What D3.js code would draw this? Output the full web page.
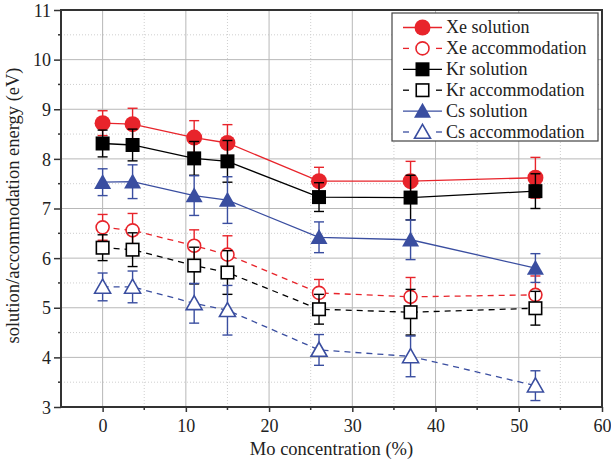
<!DOCTYPE html>
<html>
<head>
<meta charset="utf-8">
<script src="https://cdn.jsdelivr.net/npm/d3@7"></script>
<style>
  html, body { margin: 0; padding: 0; background: #fff; }
  svg { display: block; }
  text { font-family: "Liberation Serif", "Times New Roman", serif; fill: #222; }
</style>
</head>
<body>
<svg id="chart" width="611" height="460"></svg>
<script>
// ---- data ----
const moConc = [0, 3.6, 11, 15, 26, 37, 52];
const xeSolution = [8.72, 8.70, 8.43, 8.32, 7.55, 7.55, 7.62];
const xeSolutionErr = [0.25, 0.32, 0.34, 0.37, 0.28, 0.40, 0.41];
const xeAccommodation = [6.62, 6.56, 6.25, 6.07, 5.30, 5.22, 5.26];
const xeAccommodationErr = [0.26, 0.34, 0.32, 0.38, 0.27, 0.39, 0.38];
const krSolution = [8.31, 8.28, 8.01, 7.95, 7.23, 7.22, 7.35];
const krSolutionErr = [0.27, 0.32, 0.34, 0.42, 0.29, 0.45, 0.35];
const krAccommodation = [6.21, 6.17, 5.85, 5.71, 4.97, 4.91, 4.99];
const krAccommodationErr = [0.26, 0.34, 0.37, 0.44, 0.30, 0.46, 0.34];
const csSolution = [7.53, 7.54, 7.26, 7.17, 6.42, 6.37, 5.80];
const csSolutionErr = [0.27, 0.34, 0.40, 0.47, 0.31, 0.40, 0.29];
const csAccommodation = [5.42, 5.42, 5.09, 4.95, 4.15, 4.02, 3.43];
const csAccommodationErr = [0.28, 0.32, 0.40, 0.50, 0.31, 0.41, 0.30];
const seriesNames = ["Xe solution", "Xe accommodation", "Kr solution", "Kr accommodation", "Cs solution", "Cs accommodation"];
const xTicks = [0, 10, 20, 30, 40, 50, 60];
const yTicks = [3, 4, 5, 6, 7, 8, 9, 10, 11];
const xLabel = "Mo concentration (%)";
const yLabel = "solution/accommodation energy (eV)";

// ---- styles ----
const RED = "#e8242b", BLACK = "#000000", BLUE = "#3a4ea0";
const series = [
  {name: seriesNames[0], y: xeSolution, e: xeSolutionErr, color: RED, dash: null, shape: "circle", fill: true},
  {name: seriesNames[1], y: xeAccommodation, e: xeAccommodationErr, color: RED, dash: "6,5", shape: "circle", fill: false},
  {name: seriesNames[2], y: krSolution, e: krSolutionErr, color: BLACK, dash: null, shape: "square", fill: true},
  {name: seriesNames[3], y: krAccommodation, e: krAccommodationErr, color: BLACK, dash: "6,5", shape: "square", fill: false},
  {name: seriesNames[4], y: csSolution, e: csSolutionErr, color: BLUE, dash: null, shape: "triangle", fill: true},
  {name: seriesNames[5], y: csAccommodation, e: csAccommodationErr, color: BLUE, dash: "6,5", shape: "triangle", fill: false}
];

const svg = d3.select("#chart");
const L = 61, R = 602, T = 10, B = 407;
const x = d3.scaleLinear().domain([-5, 60]).range([L, R]);
const y = d3.scaleLinear().domain([3, 11]).range([B, T]);

// grid
const grid = svg.append("g");
const xMinor = d3.range(-5, 61, 5).filter(v => v % 10 !== 0);
const yMinor = d3.range(3.5, 11, 1);
grid.selectAll(".gxm").data(xMinor).enter().append("line")
  .attr("x1", d => x(d)).attr("x2", d => x(d)).attr("y1", T).attr("y2", B)
  .attr("stroke", "#cfcfcf").attr("stroke-width", 1).attr("stroke-dasharray", "1,2");
grid.selectAll(".gym").data(yMinor).enter().append("line")
  .attr("y1", d => y(d)).attr("y2", d => y(d)).attr("x1", L).attr("x2", R)
  .attr("stroke", "#cfcfcf").attr("stroke-width", 1).attr("stroke-dasharray", "1,2");
grid.selectAll(".gx").data(xTicks).enter().append("line")
  .attr("x1", d => x(d)).attr("x2", d => x(d)).attr("y1", T).attr("y2", B)
  .attr("stroke", "#b8b8b8").attr("stroke-width", 1);
grid.selectAll(".gy").data(yTicks).enter().append("line")
  .attr("y1", d => y(d)).attr("y2", d => y(d)).attr("x1", L).attr("x2", R)
  .attr("stroke", "#b8b8b8").attr("stroke-width", 1);

// axes
const xAxis = d3.axisBottom(x).tickValues(xTicks).tickSize(5).tickPadding(4).tickFormat(d3.format("d"));
const yAxis = d3.axisLeft(y).tickValues(yTicks).tickSize(7).tickPadding(3).tickFormat(d3.format("d"));
const gx = svg.append("g").attr("transform", `translate(0,${B})`).call(xAxis);
const gy = svg.append("g").attr("transform", `translate(${L},0)`).call(yAxis);
[gx, gy].forEach(g => {
  g.select(".domain").remove();
  g.selectAll(".tick line").attr("stroke", "#333").attr("stroke-width", 1.5);
  g.selectAll(".tick text").attr("font-size", 18).attr("font-family", "Liberation Serif, serif").attr("fill", "#222");
});
gx.selectAll(".tick text").attr("dy", "0.9em");
gy.selectAll(".tick text").attr("dy", "0.34em");
// minor ticks
svg.append("g").selectAll("line").data(xMinor.filter(v => v > -5)).enter().append("line")
  .attr("x1", d => x(d)).attr("x2", d => x(d)).attr("y1", B).attr("y2", B + 3)
  .attr("stroke", "#333").attr("stroke-width", 1.5);
svg.append("g").selectAll("line").data(yMinor).enter().append("line")
  .attr("y1", d => y(d)).attr("y2", d => y(d)).attr("x1", L - 3).attr("x2", L)
  .attr("stroke", "#333").attr("stroke-width", 1.5);

// frame
svg.append("rect").attr("x", L).attr("y", T).attr("width", R - L).attr("height", B - T)
  .attr("fill", "none").attr("stroke", "#333").attr("stroke-width", 2);

// axis titles
svg.append("text").attr("x", (L + R) / 2).attr("y", 455).attr("text-anchor", "middle")
  .attr("font-size", 18.5).text(xLabel);
svg.append("text").attr("transform", `translate(19,${(T + B) / 2 - 3}) rotate(-90)`)
  .attr("text-anchor", "middle").attr("font-size", 18.5).text(yLabel);

// markers
function drawMarker(g, shape, cx, cy, color, filled) {
  const sw = filled ? 0 : 1.6;
  if (shape === "circle") {
    g.append("circle").attr("cx", cx).attr("cy", cy).attr("r", filled ? 8 : 6.5)
      .attr("fill", filled ? color : "#fff").attr("stroke", color).attr("stroke-width", sw);
  } else if (shape === "square") {
    const s = filled ? 14 : 12.5;
    g.append("rect").attr("x", cx - s / 2).attr("y", cy - s / 2).attr("width", s).attr("height", s)
      .attr("fill", filled ? color : "#fff").attr("stroke", color).attr("stroke-width", sw);
  } else {
    const w = filled ? 17 : 16, h = filled ? 15 : 14;
    const pts = [[cx, cy - h * 0.55], [cx + w / 2, cy + h * 0.45], [cx - w / 2, cy + h * 0.45]];
    g.append("polygon").attr("points", pts.map(p => p.join(",")).join(" "))
      .attr("fill", filled ? color : "#fff").attr("stroke", color).attr("stroke-width", sw)
      .attr("stroke-linejoin", "miter");
  }
}

const plot = svg.append("g");
const line = d3.line().x(d => x(d[0])).y(d => y(d[1]));
series.forEach(s => {
  const g = plot.append("g");
  const pts = moConc.map((m, i) => [m, s.y[i], s.e[i]]);
  // line
  g.append("path").attr("d", line(pts)).attr("fill", "none").attr("stroke", s.color)
    .attr("stroke-width", 1.3).attr("stroke-dasharray", s.dash);
  // error bars
  pts.forEach(p => {
    const cx = x(p[0]), y1 = y(p[1] + p[2]), y2 = y(p[1] - p[2]);
    g.append("line").attr("x1", cx).attr("x2", cx).attr("y1", y1).attr("y2", y2)
      .attr("stroke", s.color).attr("stroke-width", 1.4);
    [y1, y2].forEach(yy => g.append("line").attr("x1", cx - 5).attr("x2", cx + 5)
      .attr("y1", yy).attr("y2", yy).attr("stroke", s.color).attr("stroke-width", 1.4));
  });
  // markers
  pts.forEach(p => drawMarker(g, s.shape, x(p[0]), y(p[1]), s.color, s.fill));
});

// legend
const lg = svg.append("g");
const lx = 392, ly = 13, lw = 206, lh = 128;
lg.append("rect").attr("x", lx).attr("y", ly).attr("width", lw).attr("height", lh)
  .attr("fill", "#fff").attr("stroke", "#444").attr("stroke-width", 1.2);
series.forEach((s, i) => {
  const cy = 27.5 + i * 20.9;
  if (s.dash) {
    lg.append("line").attr("x1", 403).attr("x2", 409).attr("y1", cy).attr("y2", cy)
      .attr("stroke", s.color).attr("stroke-width", 1.3);
    lg.append("line").attr("x1", 436).attr("x2", 442).attr("y1", cy).attr("y2", cy)
      .attr("stroke", s.color).attr("stroke-width", 1.3);
  } else {
    lg.append("line").attr("x1", 403).attr("x2", 442).attr("y1", cy).attr("y2", cy)
      .attr("stroke", s.color).attr("stroke-width", 1.3);
  }
  drawMarker(lg, s.shape, 422.5, cy, s.color, s.fill);
  lg.append("text").attr("x", 446).attr("y", cy).attr("dy", "0.33em")
    .attr("font-size", 18).text(s.name);
});
</script>
</body>
</html>
